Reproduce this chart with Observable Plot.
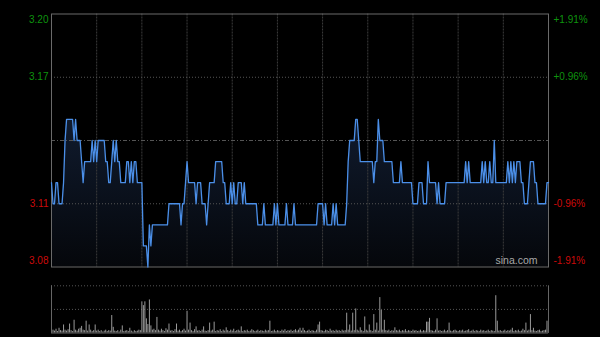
<!DOCTYPE html>
<html><head><meta charset="utf-8">
<script src="https://cdn.jsdelivr.net/npm/d3@7"></script>
<script src="https://cdn.jsdelivr.net/npm/@observablehq/plot@0.6"></script>
<style>
html,body{margin:0;padding:0;background:#000;}
#wrap{position:relative;width:600px;height:337px;background:#000;overflow:hidden;}
#wrap svg{position:absolute;left:0;}
</style></head><body><div id="wrap"></div>
<script>
// Minute-by-minute price (HK session, 331 minutes)
const prices = [
3.12,3.11,3.11,3.12,3.12,3.11,3.11,3.11,3.12,3.14,
3.15,3.15,3.15,3.15,3.15,3.14,3.15,3.14,3.14,3.14,
3.13,3.12,3.13,3.13,3.13,3.13,3.13,3.14,3.13,3.14,
3.13,3.14,3.14,3.14,3.14,3.14,3.13,3.13,3.12,3.12,
3.13,3.14,3.13,3.14,3.13,3.13,3.12,3.12,3.12,3.12,
3.13,3.13,3.12,3.13,3.12,3.13,3.13,3.12,3.12,3.12,
3.12,3.09,3.09,3.09,3.08,3.10,3.09,3.10,3.10,3.10,
3.10,3.10,3.10,3.10,3.10,3.10,3.10,3.10,3.11,3.11,
3.11,3.11,3.11,3.11,3.11,3.11,3.10,3.11,3.11,3.12,
3.13,3.12,3.12,3.12,3.12,3.12,3.11,3.12,3.12,3.12,
3.11,3.11,3.11,3.10,3.11,3.12,3.12,3.12,3.12,3.13,
3.13,3.13,3.13,3.13,3.12,3.12,3.11,3.11,3.11,3.12,
3.11,3.12,3.11,3.11,3.12,3.12,3.12,3.11,3.12,3.11,
3.11,3.11,3.11,3.11,3.11,3.11,3.11,3.10,3.10,3.10,
3.10,3.11,3.10,3.10,3.10,3.10,3.10,3.10,3.11,3.10,
3.11,3.10,3.10,3.10,3.10,3.10,3.11,3.10,3.10,3.10,
3.10,3.11,3.10,3.10,3.10,3.10,3.10,3.10,3.10,3.10,
3.10,3.10,3.10,3.10,3.10,3.10,3.10,3.11,3.11,3.11,
3.11,3.10,3.11,3.10,3.10,3.10,3.10,3.11,3.10,3.11,
3.10,3.10,3.10,3.10,3.10,3.10,3.11,3.13,3.14,3.14,
3.14,3.14,3.15,3.15,3.14,3.13,3.13,3.13,3.13,3.13,
3.13,3.13,3.13,3.13,3.12,3.13,3.13,3.15,3.14,3.14,
3.14,3.13,3.13,3.13,3.13,3.13,3.13,3.12,3.12,3.12,
3.12,3.12,3.13,3.12,3.12,3.12,3.12,3.12,3.12,3.12,
3.11,3.11,3.11,3.11,3.12,3.12,3.12,3.11,3.11,3.11,
3.13,3.12,3.12,3.12,3.12,3.12,3.11,3.12,3.11,3.11,
3.11,3.11,3.12,3.12,3.12,3.12,3.12,3.12,3.12,3.12,
3.12,3.12,3.12,3.12,3.12,3.13,3.12,3.13,3.12,3.12,
3.12,3.12,3.12,3.12,3.12,3.12,3.13,3.12,3.13,3.12,
3.12,3.13,3.12,3.12,3.14,3.12,3.12,3.12,3.12,3.12,
3.12,3.12,3.12,3.13,3.12,3.13,3.12,3.13,3.12,3.13,
3.13,3.13,3.12,3.12,3.11,3.11,3.11,3.12,3.13,3.13,
3.13,3.12,3.12,3.11,3.11,3.11,3.11,3.11,3.11,3.12,
3.12
];
// Minute volumes (relative, panel top = 100)
const volumes = [
50,6,4,8,3,10,5,4,17,6,
4,7,19,5,3,27,6,4,8,10,
14,6,5,25,4,17,6,3,5,17,
4,6,3,5,2,4,6,3,5,4,
37,12,4,3,5,2,6,15,3,4,
5,3,10,4,2,5,3,4,6,5,
66,58,66,30,18,70,15,6,8,5,
33,6,4,8,5,3,9,6,19,4,
5,3,7,19,4,6,3,5,8,4,
46,6,21,5,3,7,13,4,5,3,
6,13,4,3,5,21,4,6,23,3,
5,4,7,3,6,4,11,5,3,6,
4,8,3,5,6,4,13,3,5,4,
6,3,4,7,5,3,4,6,3,5,
4,3,6,4,5,25,3,4,6,3,
5,4,3,6,4,7,3,5,4,6,
3,5,7,4,6,10,4,10,5,3,
4,6,3,5,4,3,6,17,23,5,
4,3,6,5,3,8,4,5,3,6,
4,5,3,6,4,5,42,6,17,4,
42,5,51,6,4,11,5,3,34,6,
4,17,5,3,39,6,21,4,75,48,
6,27,5,4,6,3,5,4,11,5,
4,6,3,5,4,7,3,5,4,3,
6,4,5,3,4,6,3,5,4,23,
23,31,5,4,3,6,30,4,5,3,
4,6,3,5,21,4,3,5,6,4,
3,5,4,6,3,4,5,7,3,4,
6,3,5,4,3,6,4,5,3,4,
6,3,5,4,3,79,25,4,5,3,
4,6,3,5,4,6,10,3,5,4,
6,3,4,8,5,21,4,6,39,5,
10,4,3,5,6,3,4,5,6,25,
25
];
const prevClose = 3.14;
const priceDomain = [3.08, 3.20];
const priceTicks = [3.20, 3.17, 3.11, 3.08];
const pctTicks = ["+1.91%", "+0.96%", "-0.96%", "-1.91%"];
const timeGrid = [30, 60, 90, 120, 150, 180, 210, 240, 270, 300];
const lastMinute = 330;

const upColor = "#0e930e", downColor = "#cc0a0a";
const data = prices.map((p, i) => ({m: i, p}));
const vdata = volumes.map((v, i) => ({m: i, v}));
const ticks = priceTicks.map((v, i) => ({v, pct: pctTicks[i], c: v > prevClose ? upColor : downColor}));
const tickTop = ticks.filter(d => d.v === priceDomain[1]);
const tickBot = ticks.filter(d => d.v === priceDomain[0]);
const tickMid = ticks.filter(d => d.v !== priceDomain[0] && d.v !== priceDomain[1]);

function labelMarks(arr, dy) {
  return [
    Plot.text(arr, {y: "v", text: d => d.v.toFixed(2), fill: "c", frameAnchor: "left", textAnchor: "end", dx: -3, dy}),
    Plot.text(arr, {y: "v", text: "pct", fill: "c", frameAnchor: "right", textAnchor: "start", dx: 5, dy})
  ];
}

const font = "'Liberation Sans', Arial, sans-serif";
const pricePlot = Plot.plot({
  width: 600, height: 270,
  marginLeft: 51, marginRight: 52, marginTop: 13.5, marginBottom: 3.5,
  x: {domain: [0, lastMinute], axis: null},
  y: {domain: priceDomain, axis: null},
  style: {background: "transparent", fontFamily: font, fontSize: "10px", overflow: "visible"},
  marks: [
    Plot.areaY(data, {x: "m", y1: priceDomain[0], y2: "p", fill: "url(#pgrad)"}),
    Plot.ruleX(timeGrid, {stroke: "#3c3c3c", strokeDasharray: "2,1"}),
    Plot.ruleY(priceTicks.filter(v => v !== priceDomain[0] && v !== priceDomain[1]), {stroke: "#555", strokeDasharray: "1,2"}),
    Plot.ruleY([prevClose], {stroke: "#555", strokeDasharray: "4,2,1,2"}),
    Plot.frame({stroke: "#6a6a6a"}),
    Plot.lineY(data, {x: "m", y: "p", stroke: "#4b8fe8", strokeWidth: 1.3}),
    ...labelMarks(tickTop, 5.5),
    ...labelMarks(tickMid, 0),
    ...labelMarks(tickBot, -6.5),
    Plot.text(["sina.com"], {frameAnchor: "bottom-right", textAnchor: "end", dx: -11, dy: -3, fill: "#a8a8a8", fontSize: 10.5})
  ]
});
const defs = document.createElementNS("http://www.w3.org/2000/svg", "defs");
defs.innerHTML = '<linearGradient id="pgrad" x1="0" y1="0" x2="0" y2="1"><stop offset="0" stop-color="#101b2e"/><stop offset="1" stop-color="#05070b"/></linearGradient>';
pricePlot.insertBefore(defs, pricePlot.firstChild);
pricePlot.style.top = "0px";

const volPlot = Plot.plot({
  width: 600, height: 67,
  marginLeft: 51, marginRight: 52, marginTop: 15.3, marginBottom: 4.5,
  x: {domain: [0, lastMinute], axis: null},
  y: {domain: [0, 100], axis: null},
  style: {background: "transparent", fontFamily: font, overflow: "visible"},
  marks: [
    Plot.ruleY([100, 50], {stroke: "#555", strokeDasharray: "1,2"}),
    Plot.ruleX(vdata, {x: "m", y1: 0, y2: "v", stroke: "#9a9a9a", strokeWidth: 1}),
    Plot.ruleY([0], {stroke: "#666"}),
    Plot.ruleX([0, lastMinute], {stroke: "#666"})
  ]
});
volPlot.style.top = "270px";

const wrap = document.getElementById("wrap");
wrap.appendChild(pricePlot);
wrap.appendChild(volPlot);
</script></body></html>
